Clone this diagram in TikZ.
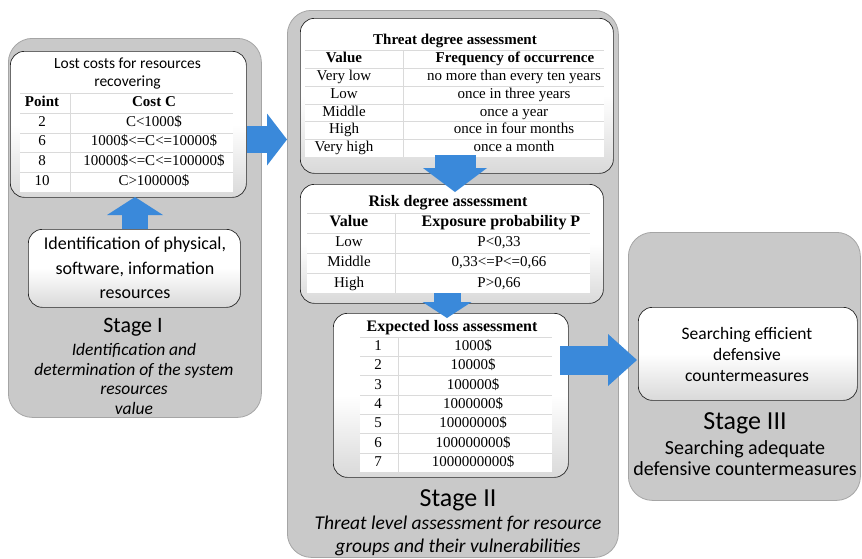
\documentclass[tikz,border=0pt]{standalone}
\usepackage{fontspec}
\setmainfont{Liberation Serif}
\newfontfamily\calib{Carlito}
\usetikzlibrary{arrows.meta}
\definecolor{arrowblue}{RGB}{58,137,218}
\definecolor{stagegray}{RGB}{201,201,201}
\definecolor{stageedge}{RGB}{165,165,165}
\definecolor{sepgray}{RGB}{218,218,218}
\begin{document}
\begin{tikzpicture}[x=1pt,y=-1pt,
  stagebox/.style={draw=stageedge, fill=stagegray, rounded corners=24pt, line width=0.8pt, inner sep=0pt, anchor=north west},
  innerbox/.style={draw=black!85, rounded corners=14pt, top color=white, bottom color=black!15, middle color=white, line width=0.7pt, inner sep=0pt, anchor=north west},
  tabfill/.style={fill=white},
  sepline/.style={draw=sepgray, line width=0.6pt},
  tt/.style={inner sep=0pt, text height=10.5pt, text depth=3.5pt, font=\fontsize{15}{17}\selectfont},
  th/.style={inner sep=0pt, text height=10.5pt, text depth=3.5pt, font=\fontsize{15}{17}\selectfont\bfseries},
  thb/.style={inner sep=0pt, text height=11pt, text depth=3.5pt, font=\fontsize{16}{18}\selectfont\bfseries},
  caltext/.style={inner sep=0pt, align=center},
  barrow/.style={draw=arrowblue}
]
\useasboundingbox (0,0) rectangle (862,558);
\fill[white] (0,0) rectangle (862,558);

% stage boxes
\node[stagebox, minimum width=253pt, minimum height=379pt] (s1) at (8,38) {};
\node[stagebox, minimum width=331pt, minimum height=547pt] (s2) at (287,10) {};
\node[stagebox, minimum width=232pt, minimum height=268pt] (s3) at (628,232) {};

% inner boxes
\node[innerbox, minimum width=236pt, minimum height=146pt] (cost) at (10,51) {};
\node[innerbox, minimum width=212pt, minimum height=78pt] (ident) at (28,229) {};
\node[innerbox, minimum width=313pt, minimum height=155pt] (threat) at (300,18) {};
\node[innerbox, minimum width=303pt, minimum height=119pt] (risk) at (300,184) {};
\node[innerbox, minimum width=235pt, minimum height=164pt] (loss) at (333,313) {};
\node[innerbox, minimum width=219pt, minimum height=93pt] (search) at (638,307) {};

% cost table
\fill[tabfill] (20,56) rectangle (233,192);
\foreach \yy in {93,113,133,152,172} {\draw[sepline] (20,\yy) -- (233,\yy);}
\draw[sepline] (70,93) -- (70,192);
\node[caltext, font=\calib\fontsize{15.5}{18}\selectfont] (costtitle) at (127.5,74) {Lost costs for resources\\recovering};
\node[th] (ch1) at (42,103) {Point};
\node[th] (ch2) at (154,103) {Cost C};
\node[tt] (c11) at (42,123) {2};
\node[tt] (c12) at (154,123) {C<1000\$};
\node[tt] (c21) at (42,142) {6};
\node[tt] (c22) at (154,142) {1000\$<=C<=10000\$};
\node[tt] (c31) at (42,162) {8};
\node[tt] (c32) at (154,162) {10000\$<=C<=100000\$};
\node[tt] (c41) at (42,182) {10};
\node[tt] (c42) at (154,182) {C>100000\$};

% threat table
\fill[tabfill] (305,31) rectangle (604,157);
\foreach \yy in {50,68,86,104,121,139} {\draw[sepline] (305,\yy) -- (604,\yy);}
\draw[sepline] (403,50) -- (403,157);
\node[th] (ttitle) at (455,41) {Threat degree assessment};
\node[th] (th1) at (344,59) {Value};
\node[th] (th2) at (515,59) {Frequency of occurrence};
\node[tt] (t11) at (344,77) {Very low};
\node[tt] (t12) at (514,77) {no more than every ten years};
\node[tt] (t21) at (344,95) {Low};
\node[tt] (t22) at (514,95) {once in three years};
\node[tt] (t31) at (344,112.5) {Middle};
\node[tt] (t32) at (514,112.5) {once a year};
\node[tt] (t41) at (344,130) {High};
\node[tt] (t42) at (514,130) {once in four months};
\node[tt] (t51) at (344,148) {Very high};
\node[tt] (t52) at (514,148) {once a month};

% risk table
\fill[tabfill] (307,193) rectangle (590,293);
\foreach \yy in {213,233,253,273} {\draw[sepline] (307,\yy) -- (590,\yy);}
\draw[sepline] (395,213) -- (395,293);
\node[thb] (rtitle) at (448,203) {Risk degree assessment};
\node[thb] (rh1) at (349,223) {Value};
\node[thb] (rh2) at (501,223) {Exposure probability P};
\node[tt] (r11) at (349,243) {Low};
\node[tt] (r12) at (499,243) {P<0,33};
\node[tt] (r21) at (349,263) {Middle};
\node[tt] (r22) at (499,263) {0,33<=P<=0,66};
\node[tt] (r31) at (349,284) {High};
\node[tt] (r32) at (499,284) {P>0,66};

% expected loss table
\fill[tabfill] (360,318) rectangle (552,472);
\foreach \yy in {337,356,375,395,414,433,453} {\draw[sepline] (360,\yy) -- (552,\yy);}
\draw[sepline] (398,337) -- (398,472);
\node[thb] (ltitle) at (452,328) {Expected loss assessment};
\foreach \i/\v [count=\k] in {1/1000\$,2/10000\$,3/100000\$,4/1000000\$,5/10000000\$,6/100000000\$,7/1000000000\$} {
  \node[tt] (l\k a) at (378,{347+(\k-1)*19.3}) {\i};
  \node[tt] (l\k b) at (473,{347+(\k-1)*19.3}) {\v};
}

% other texts
\node[caltext, font=\calib\fontsize{18}{24.5}\selectfont] (identtxt) at (135,268) {Identification of physical,\\software, information\\resources};
\node[caltext, font=\calib\fontsize{22}{26}\selectfont] (st1) at (133,327) {Stage I};
\node[caltext, font=\calib\itshape\fontsize{17.5}{19.5}\selectfont] (st1d) at (134,379) {Identification and\\determination of the system\\resources\\value};
\node[caltext, font=\calib\fontsize{26}{30}\selectfont] (st2) at (458,500) {Stage II};
\node[caltext, font=\calib\itshape\fontsize{19.5}{22.5}\selectfont] (st2d) at (458,536) {Threat level assessment for resource\\groups and their vulnerabilities};
\node[caltext, font=\calib\fontsize{26}{30}\selectfont] (st3) at (745,423) {Stage III};
\node[caltext, font=\calib\fontsize{20}{20.5}\selectfont] (st3d) at (745,458) {Searching adequate\\defensive countermeasures};
\node[caltext, font=\calib\fontsize{17.5}{21}\selectfont] (searchtxt) at (747,354) {Searching efficient\\defensive\\countermeasures};

% arrows
\coordinate (a1s) at (247,139.5); \coordinate (a1e) at (287,139.5);
\draw[barrow, line width=27pt, -{Triangle[length=20pt,width=52pt,line width=0pt]}] (a1s) -- (a1e);
\coordinate (a2s) at (135,229); \coordinate (a2e) at (135,197);
\draw[barrow, line width=26pt, -{Triangle[length=18pt,width=56pt,line width=0pt]}] (a2s) -- (a2e);
\coordinate (a3s) at (455,155); \coordinate (a3e) at (455,192);
\draw[barrow, line width=41pt, -{Triangle[length=24pt,width=64pt,line width=0pt]}] (a3s) -- (a3e);
\coordinate (a4s) at (447,293); \coordinate (a4e) at (447,318);
\draw[barrow, line width=27pt, -{Triangle[length=16pt,width=49pt,line width=0pt]}] (a4s) -- (a4e);
\coordinate (a5s) at (560,360); \coordinate (a5e) at (637,360);
\draw[barrow, line width=29pt, -{Triangle[length=29pt,width=52pt,line width=0pt]}] (a5s) -- (a5e);
\end{tikzpicture}
\end{document}
